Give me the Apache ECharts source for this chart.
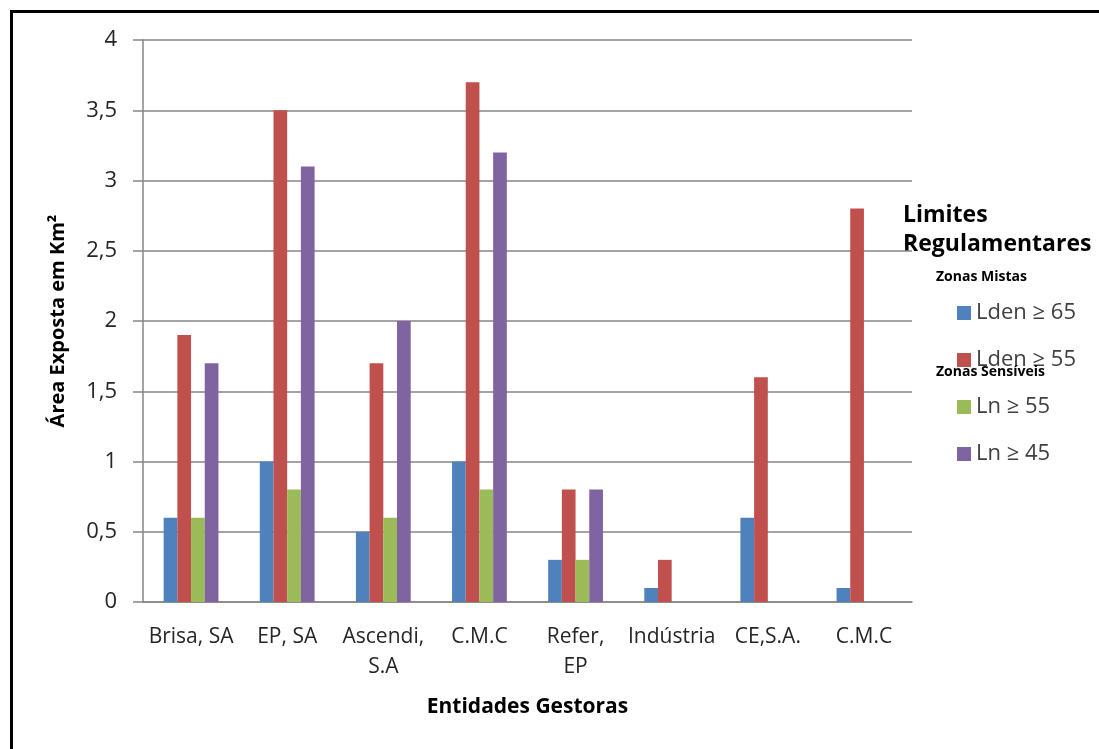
<!DOCTYPE html>
<html>
<head>
<meta charset="utf-8">
<script src="https://cdn.jsdelivr.net/npm/echarts@6/dist/echarts.min.js"></script>
<style>
html,body{margin:0;padding:0;background:#fff;}
#chart{width:1099px;height:749px;}
</style>
</head>
<body>
<div id="chart"></div>
<script>
const categories = ['Brisa, SA', 'EP, SA', 'Ascendi,\nS.A', 'C.M.C', 'Refer,\nEP', 'Indústria', 'CE,S.A.', 'C.M.C'];
const seriesNames = ['Lden ≥ 65', 'Lden ≥ 55', 'Ln ≥ 55', 'Ln ≥ 45'];
const lden65 = [0.6, 1.0, 0.5, 1.0, 0.3, 0.1, 0.6, 0.1];
const lden55 = [1.9, 3.5, 1.7, 3.7, 0.8, 0.3, 1.6, 2.8];
const ln55 = [0.6, 0.8, 0.6, 0.8, 0.3, null, null, null];
const ln45 = [1.7, 3.1, 2.0, 3.2, 0.8, null, null, null];
const colors = ['#4F81BD', '#C0504D', '#9BBB59', '#8064A2'];

const font = '"Open Sans", "Noto Sans", sans-serif';
const chart = echarts.init(document.getElementById('chart'));
const allData = [lden65, lden55, ln55, ln45];

chart.setOption({
  animation: false,
  color: colors,
  grid: { left: 143, right: 187, top: 40, bottom: 147, containLabel: false },
  legend: {
    orient: 'vertical',
    left: 952,
    top: 297,
    itemWidth: 14,
    itemHeight: 14,
    itemGap: 25,
    icon: 'rect',
    textStyle: { fontFamily: font, fontSize: 22, color: '#404040', lineHeight: 22 },
    data: seriesNames
  },
  xAxis: {
    type: 'category',
    data: categories,
    name: 'Entidades Gestoras',
    nameLocation: 'middle',
    nameGap: 95,
    nameTextStyle: { fontFamily: font, fontSize: 21, fontWeight: 'bold', color: '#000', verticalAlign: 'top' },
    axisLine: { lineStyle: { color: '#868686', width: 1.5 } },
    axisTick: { show: false },
    axisLabel: { fontFamily: font, fontSize: 21, color: '#262626', margin: 20, lineHeight: 30, interval: 0 }
  },
  yAxis: {
    type: 'value',
    min: 0,
    max: 4,
    interval: 0.5,
    name: 'Área Exposta em Km²',
    nameLocation: 'middle',
    nameGap: 75,
    nameTextStyle: { fontFamily: font, fontSize: 20, fontWeight: 'bold', color: '#000' },
    axisLine: { show: true, lineStyle: { color: '#868686', width: 1.5 } },
    axisTick: { show: true, length: 10, lineStyle: { color: '#868686', width: 1.5 } },
    splitLine: { lineStyle: { color: '#868686', width: 1.5 } },
    axisLabel: {
      fontFamily: font, fontSize: 22, color: '#262626', margin: 26,
      formatter: v => String(v).replace('.', ',')
    }
  },
  series: seriesNames.map((n, i) => ({
    name: n,
    type: 'bar',
    data: allData[i],
    barGap: '0%',
    barCategoryGap: '43%',
    itemStyle: { color: colors[i] }
  })),
  graphic: [
    { type: 'rect', shape: { x: 11.5, y: 11.5, width: 1200, height: 800 }, style: { fill: null, stroke: '#000', lineWidth: 3 }, silent: true },
    { type: 'text', left: 903, top: 201, style: { text: 'Limites\nRegulamentares', fontFamily: font, fontSize: 23, fontWeight: 'bold', fill: '#000', lineHeight: 29 } },
    { type: 'text', left: 936, top: 270, style: { text: 'Zonas Mistas', fontFamily: font, fontSize: 14, fontWeight: 'bold', fill: '#000' } },
    { type: 'text', left: 936, top: 365, style: { text: 'Zonas Sensíveis', fontFamily: font, fontSize: 14, fontWeight: 'bold', fill: '#000' }, z: 100 }
  ]
});
</script>
</body>
</html>
